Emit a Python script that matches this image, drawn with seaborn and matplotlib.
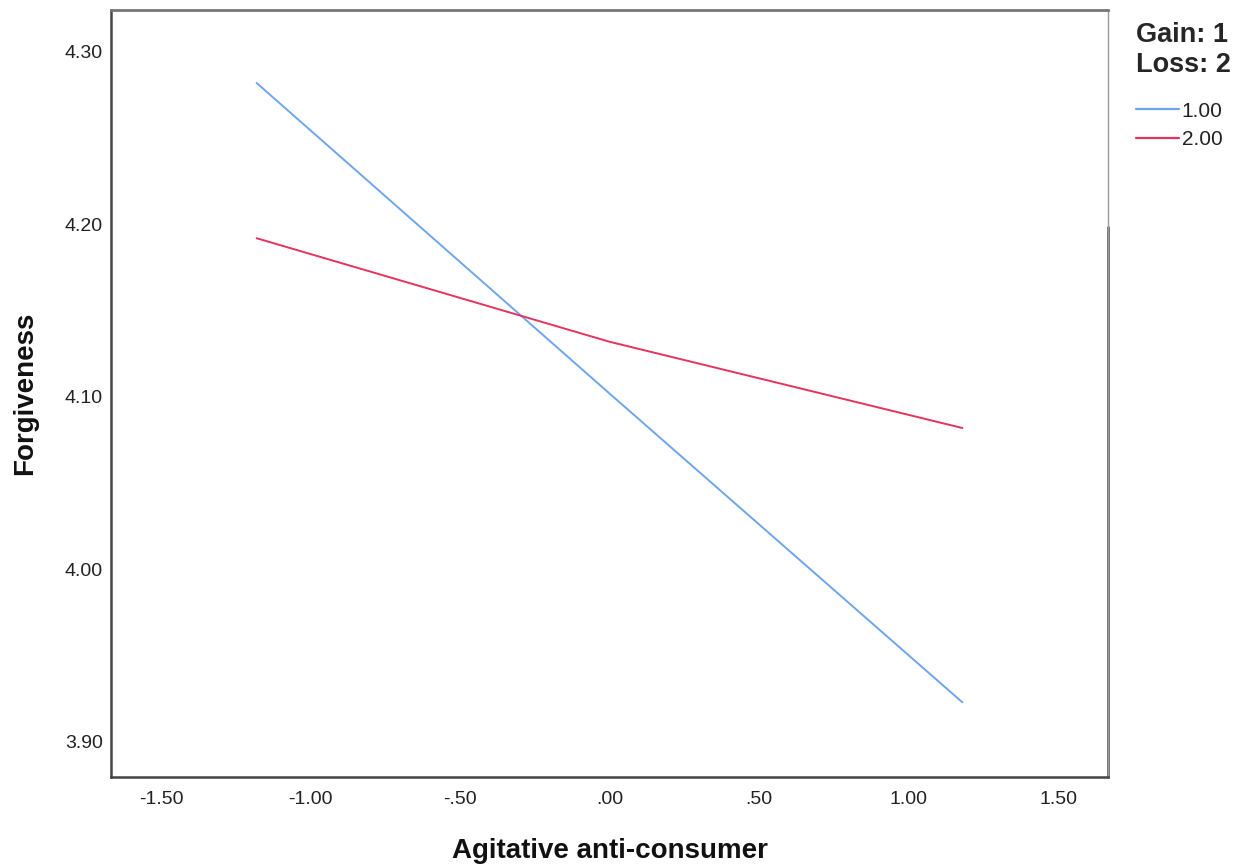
import matplotlib
matplotlib.use("Agg")
import matplotlib.pyplot as plt
import seaborn as sns
import pandas as pd

# Data
x_values = [-1.18, 0.00, 1.18]
gain_values = [4.282, 4.102, 3.923]   # group 1.00
loss_values = [4.192, 4.132, 4.082]   # group 2.00
group_labels = ["1.00", "2.00"]
x_ticks = [-1.5, -1.0, -0.5, 0.0, 0.5, 1.0, 1.5]
x_tick_labels = ["-1.50", "-1.00", "-.50", ".00", ".50", "1.00", "1.50"]
y_ticks = [3.90, 4.00, 4.10, 4.20, 4.30]
y_tick_labels = ["3.90", "4.00", "4.10", "4.20", "4.30"]

df = pd.DataFrame({
    "x": x_values + x_values,
    "y": gain_values + loss_values,
    "group": [group_labels[0]] * len(x_values) + [group_labels[1]] * len(x_values),
})

sns.set_theme(style="white")
plt.rcParams["font.family"] = ["Liberation Sans", "DejaVu Sans"]

fig = plt.figure(figsize=(12.44, 8.66), dpi=100)
ax = fig.add_axes([111 / 1244, 1 - 777 / 866, (1108 - 111) / 1244, (777 - 10) / 866])

palette = {"1.00": "#6ea6ee", "2.00": "#e5335f"}
sns.lineplot(data=df, x="x", y="y", hue="group", palette=palette,
             errorbar=None, linewidth=1.4, ax=ax, legend=True)

ax.set_xlim(-1.667, 1.667)
ax.set_ylim(3.8797, 4.3243)
ax.set_xticks(x_ticks)
ax.set_xticklabels(x_tick_labels)
ax.set_yticks(y_ticks)
ax.set_yticklabels(y_tick_labels)
ax.tick_params(axis="both", length=0, labelsize=14, colors="#222222")
ax.tick_params(axis="x", pad=10)
ax.tick_params(axis="y", pad=6)

ax.set_xlabel("Agitative anti-consumer", fontsize=20, fontweight="bold", labelpad=22, color="#111111")
ax.set_ylabel("Forgiveness", fontsize=20, fontweight="bold", labelpad=19, color="#111111")

for side in ["left", "bottom"]:
    ax.spines[side].set_color("#444444")
    ax.spines[side].set_linewidth(1.8)
ax.spines["top"].set_color("#777777")
ax.spines["top"].set_linewidth(2.0)
ax.spines["right"].set_color("#999999")
ax.spines["right"].set_linewidth(1.0)
ax.axvline(1.667, ymin=0, ymax=(4.1986 - 3.8797) / (4.3243 - 3.8797),
           color="#666666", linewidth=2.0, clip_on=False)

handles, labels = ax.get_legend_handles_labels()
leg = ax.legend(handles, labels, title="Gain: 1\nLoss: 2",
                loc="upper left", bbox_to_anchor=(1136 / 1244, 1 - 22 / 866),
                bbox_transform=fig.transFigure, frameon=False,
                fontsize=15, title_fontproperties={"weight": "bold", "size": 19.5},
                handlelength=2.05, handletextpad=0.15, labelspacing=0.45,
                borderpad=0, borderaxespad=0, alignment="left")
leg._legend_box.sep = 17
for line in leg.get_lines():
    line.set_linewidth(1.6)
for t in leg.get_texts():
    t.set_color("#222222")

fig.savefig("out.png", dpi=100)
